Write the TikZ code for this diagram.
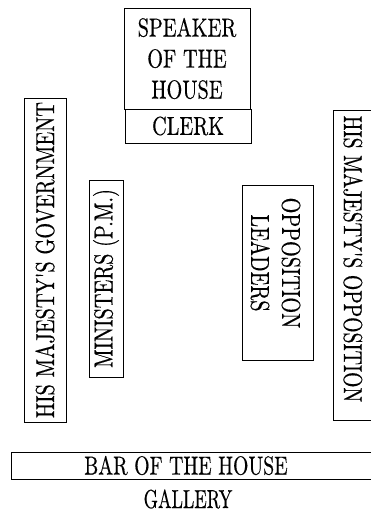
\documentclass[tikz,border=0pt]{standalone}
\usepackage{fontspec}
\usepackage{graphicx}
% slightly heavier roman for the chamber labels
\newfontfamily\chamberfont{lmroman10-regular.otf}[FakeBold=0.5]
% narrow the serif type horizontally, as the chamber labels are set
\newcommand{\nar}[2][0.78]{\scalebox{#1}[1]{#2}}
\begin{document}
\begin{tikzpicture}[x=1pt,y=1pt,
  seat/.style={draw, line width=0.8pt, inner sep=0pt, align=center},
  label/.style={inner sep=0pt, align=center},
  every node/.append style={font=\chamberfont\fontsize{26}{31}\selectfont}]
\useasboundingbox (0,0) rectangle (371,512);

% Speaker and clerk at the head of the chamber
\node[seat, minimum width=126, minimum height=101] (speaker) at (187,453.5)
  {\nar{SPEAKER}\\\nar{OF THE}\\\nar{HOUSE}};
\node[seat, minimum width=126, minimum height=34] (clerk) at (188,386) {\nar{CLERK}};

% Government side
\node[seat, rotate=90, minimum width=324, minimum height=42] (gov) at (45,252)
  {\nar{HIS MAJESTY\textquotesingle S GOVERNMENT}};
\node[seat, rotate=90, minimum width=197, minimum height=34] (ministers) at (106,233.5)
  {\nar{MINISTERS (P.M.)}};

% Opposition side
\node[seat, rotate=-90, minimum width=175, minimum height=71] (leadersbox) at (277.5,239.5) {};
\node[label, rotate=-90] (leaders) at (275.5,249) {\nar{OPPOSITION}\\\nar{LEADERS}};
\draw[line width=0.8pt] (376,92) -- (333.4,92) -- (333.4,402) -- (376,402);
\node[label, rotate=-90] (opp) at (353,253) {\nar[0.76]{HIS MAJESTY\textquotesingle S OPPOSITION}};

% Bar of the house and gallery
\draw[line width=0.8pt] (376,33) -- (11.4,33) -- (11.4,60) -- (376,60);
\node[label] (bar) at (186,46.5) {\nar[0.76]{BAR OF THE HOUSE}};
\node[label, anchor=base] (gallery) at (188,4) {\nar[0.7]{GALLERY}};
\end{tikzpicture}
\end{document}
